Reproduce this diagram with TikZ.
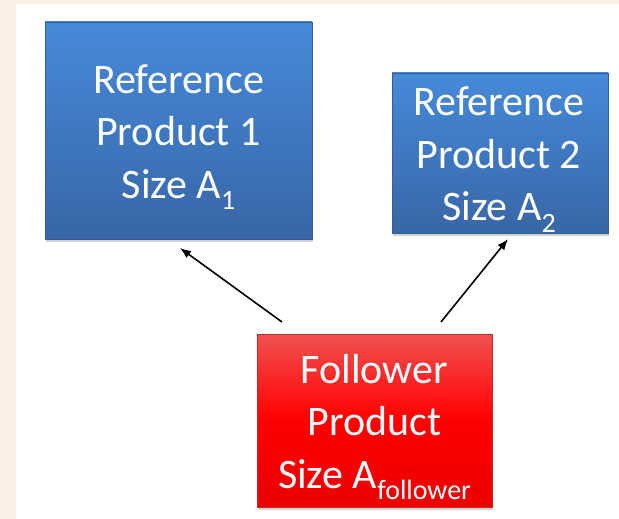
\documentclass[tikz,border=0pt]{standalone}
\usepackage{fontspec}
\setmainfont{Carlito}
\usetikzlibrary{arrows.meta,shadows}
\definecolor{bgbeige}{RGB}{250,240,230}
\definecolor{bluetop}{RGB}{70,138,218}
\definecolor{bluebot}{RGB}{56,102,166}
\definecolor{blueedge}{RGB}{52,92,150}
\definecolor{redtop}{RGB}{242,80,80}
\definecolor{redbot}{RGB}{235,0,0}
\definecolor{rededge}{RGB}{200,40,40}
\newcommand{\mysub}[1]{\raisebox{-0.28em}{\fontsize{28}{28}\selectfont #1}}
\tikzset{
  x=1pt, y=-1pt,
  prodbox/.style={draw=blueedge, line width=0.6pt, top color=bluetop, bottom color=bluebot,
     inner sep=0pt,
     drop shadow={shadow xshift=1pt, shadow yshift=-2.5pt, opacity=0.35}},
  folbox/.style={prodbox, draw=rededge, top color=redtop, bottom color=redbot, middle color=red},
  boxtext/.style={text=white, align=center, font=\fontsize{42}{52.5}\selectfont, inner sep=0pt},
  conn/.style={-{Latex[length=11pt,width=8.5pt]}, line width=1.6pt, black}
}
\begin{document}
\begin{tikzpicture}
\useasboundingbox (0,0) rectangle (619,519);
\fill[bgbeige] (0,0) rectangle (619,519);
\fill[white] (16,4) rectangle (619,519);
\node[prodbox, minimum width=267pt, minimum height=217pt] (r1) at (178.5,130.5) {};
\node[boxtext] (r1t) at (178.5,137) {Reference\\Product 1\\Size A\mysub{1}};
\node[prodbox, minimum width=216pt, minimum height=160pt] (r2) at (500,153) {};
\node[boxtext] (r2t) at (499,159.5) {Reference\\Product 2\\Size A\mysub{2}};
\node[folbox, minimum width=235pt, minimum height=173pt] (f) at (374.5,420.5) {};
\node[boxtext] (ft) at (374.5,427) {Follower\\Product\\Size A\mysub{follower}};
\coordinate (s1) at (282,322);
\coordinate (e1) at (180,248);
\coordinate (s2) at (441,322);
\coordinate (e2) at (508,239);
\draw[conn] (s1) -- (e1);
\draw[conn] (s2) -- (e2);
\end{tikzpicture}
\end{document}
